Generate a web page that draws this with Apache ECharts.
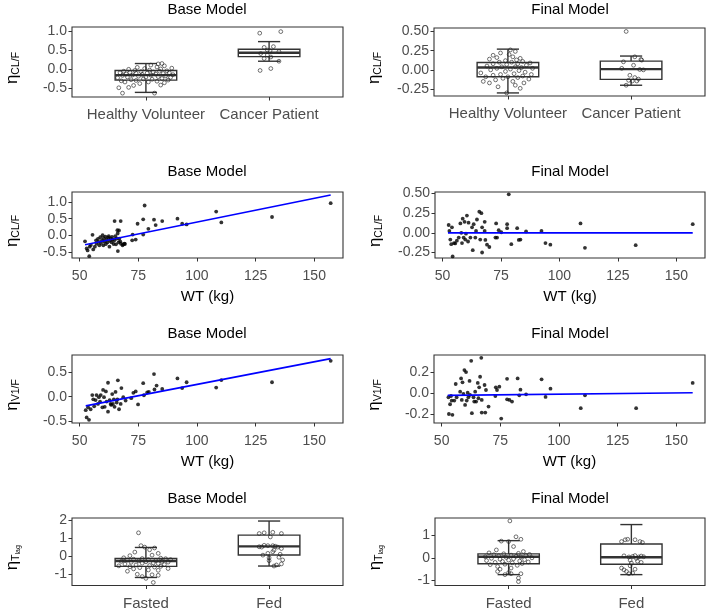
<!DOCTYPE html>
<html><head><meta charset="utf-8">
<script src="https://cdn.jsdelivr.net/npm/echarts@6/dist/echarts.min.js"></script>
<style>html,body{margin:0;padding:0;background:#fff}#c{width:709px;height:611px}</style>
</head><body><div id="c"></div><script>
// ---------- data ----------
const catsGroup = ['Healthy Volunteer', 'Cancer Patient'];
const catsFood = ['Fasted', 'Fed'];
const wtTicks = [50, 75, 100, 125, 150];

// box stats: [category, lowerWhisker, q1, median, q3, upperWhisker]
const boxBaseCL = [[1, -0.6, -0.28, -0.15, -0.03, 0.15], [2, 0.21, 0.33, 0.43, 0.52, 0.72]];
const boxFinalCL = [[1, -0.3, -0.09, 0.03, 0.096, 0.27], [2, -0.2, -0.123, 0.01, 0.114, 0.18]];
const boxBaseTlag = [[1, -1.2, -0.58, -0.28, -0.14, 0.48], [2, -0.56, 0.06, 0.54, 1.17, 1.96]];
const boxFinalTlag = [[1, -0.74, -0.26, 0.05, 0.175, 0.76], [2, -0.74, -0.28, 0.03, 0.61, 1.47]];

// jittered points: [offset from category centre, value]
const ptsBaseCL_HV = [[-0.19,-0.62],[0.07,-0.62],[-0.22,-0.48],[-0.14,-0.47],[-0.1,-0.42],[0.12,-0.41],[-0.05,-0.37],[0.15,-0.35],[-0.17,-0.33],[0.02,-0.33],[0.09,-0.31],[-0.2,-0.3],[-0.08,-0.29],[0.18,-0.28],[-0.12,-0.27],[0.05,-0.26],[-0.02,-0.25],[0.13,-0.24],[-0.23,-0.22],[0.2,-0.21],[-0.15,-0.2],[0.0,-0.2],[0.1,-0.19],[-0.06,-0.18],[0.16,-0.17],[-0.19,-0.16],[0.04,-0.15],[-0.11,-0.15],[0.22,-0.14],[-0.03,-0.13],[0.08,-0.12],[-0.16,-0.12],[0.14,-0.11],[-0.08,-0.1],[0.01,-0.1],[-0.21,-0.09],[0.19,-0.09],[-0.13,-0.08],[0.06,-0.07],[-0.04,-0.06],[0.11,-0.05],[-0.18,-0.05],[0.17,-0.04],[-0.09,-0.03],[0.03,-0.02],[-0.14,0.0],[0.12,0.01],[-0.01,0.02],[0.21,0.03],[-0.07,0.05],[0.09,0.06],[0.15,0.09],[0.04,0.11],[0.1,0.14],[0.13,0.15]];
const ptsBaseCL_CP = [[-0.076,0.94],[0.095,0.98],[-0.04,0.57],[0.035,0.59],[-0.014,0.5],[0.008,0.48],[0.08,0.46],[-0.068,0.41],[-0.014,0.37],[0.014,0.32],[0.08,0.21],[-0.073,-0.03],[0.014,0.02],[-0.04,0.28]];
const ptsFinalCL_HV = [[-0.01,-0.3],[-0.08,-0.22],[0.1,-0.24],[0.06,-0.2],[-0.15,-0.17],[0.13,-0.17],[-0.2,-0.15],[0.04,-0.15],[-0.1,-0.13],[0.17,-0.12],[-0.04,-0.11],[0.08,-0.1],[-0.18,-0.09],[0.0,-0.09],[0.12,-0.08],[-0.12,-0.07],[0.19,-0.06],[-0.06,-0.06],[0.05,-0.05],[-0.22,-0.04],[0.14,-0.03],[-0.02,-0.02],[0.09,-0.01],[-0.14,0.0],[0.02,0.01],[0.2,0.02],[-0.09,0.02],[0.11,0.03],[-0.05,0.04],[0.06,0.04],[-0.17,0.05],[0.15,0.06],[-0.01,0.07],[0.08,0.08],[-0.12,0.08],[0.18,0.09],[0.03,0.1],[-0.07,0.1],[0.12,0.11],[-0.02,0.12],[0.07,0.13],[-0.15,0.14],[0.1,0.15],[-0.09,0.16],[0.04,0.17],[-0.12,0.19],[0.01,0.2],[-0.06,0.22],[0.06,0.24],[0.02,0.26]];
const ptsFinalCL_CP = [[-0.04,0.5],[0.03,0.17],[0.08,0.136],[0.086,0.127],[-0.062,0.105],[0.02,0.06],[-0.076,0.02],[0.1,0.0],[0.07,0.005],[-0.01,-0.07],[0.03,-0.1],[-0.02,-0.136],[0.01,-0.145],[0.046,-0.145],[-0.04,-0.2],[0.06,-0.12]];
const ptsBaseTlag_Fa = [[-0.06,1.3],[-0.04,0.58],[0.07,0.45],[-0.01,0.5],[0.03,0.35],[-0.09,0.22],[0.1,0.15],[-0.13,0.02],[0.05,0.05],[-0.18,-0.1],[0.12,-0.12],[-0.03,-0.14],[0.16,-0.15],[-0.1,-0.18],[0.02,-0.2],[0.2,-0.2],[-0.15,-0.22],[0.08,-0.25],[-0.06,-0.27],[0.13,-0.3],[-0.2,-0.3],[0.0,-0.32],[0.18,-0.34],[-0.12,-0.35],[0.06,-0.38],[-0.03,-0.4],[0.1,-0.42],[-0.17,-0.45],[0.15,-0.48],[-0.08,-0.5],[0.03,-0.53],[-0.22,-0.55],[0.12,-0.58],[-0.13,-0.6],[0.07,-0.62],[-0.05,-0.65],[0.18,-0.7],[-0.1,-0.72],[0.02,-0.78],[0.1,-0.8],[-0.15,-0.85],[-0.07,-1.02],[0.05,-1.05],[0.1,-1.08],[-0.03,-1.15],[0.0,-1.25],[0.06,-1.48]];
const ptsBaseTlag_Fe = [[-0.08,1.26],[-0.04,1.3],[0.03,1.33],[0.1,1.26],[0.01,1.07],[-0.04,0.6],[-0.01,0.58],[0.03,0.58],[0.05,0.55],[0.07,0.5],[0.1,0.42],[-0.08,0.52],[-0.06,0.5],[0.04,0.33],[-0.01,0.15],[0.03,0.24],[0.08,-0.07],[0.11,-0.22],[0.0,-0.26],[0.1,-0.44],[0.04,-0.56],[0.06,-0.5],[0.0,-0.1],[-0.05,0.05],[0.09,0.1]];
const ptsFinalTlag_Fa = [[0.01,1.63],[0.06,0.93],[0.1,0.82],[-0.06,0.74],[0.0,0.72],[0.04,0.5],[-0.1,0.35],[0.12,0.28],[-0.16,0.22],[0.08,0.2],[-0.04,0.18],[0.17,0.15],[-0.12,0.14],[0.02,0.12],[0.14,0.1],[-0.08,0.09],[0.06,0.07],[-0.19,0.05],[0.1,0.04],[-0.02,0.02],[0.19,0.0],[-0.14,-0.02],[0.04,-0.04],[-0.07,-0.06],[0.13,-0.08],[0.0,-0.1],[-0.18,-0.12],[0.09,-0.14],[-0.05,-0.16],[0.16,-0.18],[-0.11,-0.2],[0.03,-0.22],[0.11,-0.25],[-0.03,-0.28],[-0.15,-0.3],[0.07,-0.33],[-0.09,-0.38],[0.02,-0.45],[-0.07,-0.5],[-0.09,-0.6],[0.0,-0.65],[0.02,-0.7],[0.1,-0.7],[-0.03,-0.74],[0.08,-0.89],[0.08,-1.05]];
const ptsFinalTlag_Fe = [[-0.08,0.72],[-0.05,0.8],[-0.03,0.82],[0.03,0.8],[0.07,0.72],[0.09,0.68],[-0.06,0.09],[-0.02,0.04],[0.01,0.06],[0.03,0.1],[0.06,0.04],[0.08,0.08],[0.1,0.05],[0.04,-0.02],[-0.01,-0.1],[0.05,-0.15],[0.08,-0.2],[0.0,-0.23],[-0.01,-0.35],[-0.08,-0.45],[-0.06,-0.53],[-0.04,-0.6],[0.03,-0.5],[0.01,-0.67],[-0.02,-0.7]];

// scatter: [WT, eta]
const wtBaseCL = [[157,0.96],[132,0.55],[110.4,0.39],[108.2,0.71],[95.6,0.33],[93.7,0.35],[91.7,0.5],[85.2,0.43],[82.4,0.31],[81.7,0.47],[79.3,0.2],[77.7,0.89],[77.1,0.48],[77.1,0.03],[74.7,0.35],[73.9,-0.12],[72.6,0.03],[72.4,-0.14],[69.3,-0.25],[68.5,-0.26],[67.5,0.43],[66.3,-0.46],[66.1,0.16],[66.8,0.15],[64.9,0.43],
 [52.3,-0.17],[53.0,-0.38],[53.4,-0.44],[54.1,-0.61],[54.3,-0.33],[54.8,-0.28],[55.5,0.02],[55.8,-0.41],[56.5,-0.33],[57.0,-0.14],[57.2,-0.24],[57.8,-0.1],[58.1,-0.19],[58.4,-0.29],[58.8,-0.05],[59.1,-0.22],[59.5,-0.14],[59.8,0.01],[60.1,-0.29],[60.3,-0.08],[60.5,-0.18],[61.0,-0.03],[61.2,-0.25],[61.5,-0.12],[61.9,-0.2],[62.2,-0.06],[62.4,-0.02],[62.7,-0.33],[63.0,-0.15],[63.3,-0.09],[63.6,-0.2],[63.8,-0.04],[64.1,-0.12],[64.5,-0.25],[64.8,-0.14],[65.2,-0.02],[65.5,-0.26],[65.8,-0.09],[66.2,0.06],[66.6,-0.2],[66.9,-0.09],[67.3,-0.17],[67.6,-0.24],[68.3,-0.29],[69.1,-0.24]];
const fitBaseCL = [[52.3,-0.27],[157,1.2]];
const wtFinalCL = [[157,0.11],[132.6,-0.157],[110.9,-0.19],[109,0.12],[96.1,-0.15],[94,-0.13],[92.3,0.025],[85.7,0.017],[83.3,-0.085],[82.6,-0.09],[81.9,0.06],[79.4,-0.144],[78.3,0.49],[77.6,0.11],[77.6,0.06],[75.1,0.008],[74,0.034],[73.3,-0.06],[72.9,0.12],[72.6,-0.06],[70,-0.18],[69,-0.15],[68.3,-0.09],[68,0.025],[68,0.14],[66.9,0.07],[66.6,0.25],[65.7,0.27],[66.1,-0.085],[66.9,-0.25],[64.7,0.17],[64.3,0.025],[64,-0.06],[63.3,0.11],[62.9,-0.22],[62.6,0.07],[61.9,-0.06],[61.1,0.13],[60.9,-0.11],[60.4,0.22],[60,-0.01],[59.7,-0.085],[59.4,0.14],[59,-0.06],[58.6,0.18],[58.3,-0.13],[58,0],[57.6,0.12],[56.9,-0.06],[56.1,-0.1],[55.4,-0.135],[54.9,-0.13],[54.3,-0.3],[54,0.07],[53.7,-0.144],[53.3,-0.085],[52.6,0.1],[52.9,0.025]];
const fitFinalCL = [[52.3,0.0],[157,0.0]];
const wtBaseV1 = [[157,0.745],[132,0.3],[110.4,0.345],[108.2,0.19],[95.6,0.3],[93.7,0.18],[91.7,0.38],[85.2,0.16],[82.8,0.23],[81.9,0.15],[81.7,0.47],[79.5,0.1],[78.8,0.09],[77.1,0.28],[77.4,0.03],[74.9,-0.16],[73.9,0.11],[72.9,0.08],[72,-0.03],[69.6,-0.08],[68.6,-0.01],[67.8,0.18],[67.5,-0.15],[66.8,-0.26],[66.3,0.34],[66.1,-0.055],[65.3,0.1],[64.9,-0.21],[64.6,-0.055],[64.2,-0.15],[63.9,0.055],[63.2,-0.15],[62.8,-0.07],[62.1,-0.31],[62.1,0.29],[61.5,-0.1],[60.7,-0.21],[60.4,-0.01],[60,0.14],[59.7,-0.22],[59,0.035],[58.7,-0.1],[58.2,-0.01],[57.8,-0.15],[57.2,0.035],[56.8,-0.07],[55.8,-0.055],[55.4,0.035],[54.7,-0.26],[54,-0.48],[53.6,-0.22],[53,-0.43],[52.6,-0.28],[56.2,-0.2],[61.2,0.11],[63.5,-0.17],[65.8,-0.12]];
const fitBaseV1 = [[52.6,-0.19],[157,0.79]];
const wtFinalV1 = [[157,0.1],[132.9,-0.144],[111.1,-0.02],[109.3,-0.144],[96.4,0.045],[94.3,-0.035],[92.6,0.135],[86,-0.01],[83.6,0.035],[83.1,-0.02],[82.4,0.144],[80,-0.08],[78.9,-0.064],[77.9,-0.058],[77.9,0.14],[75.4,-0.244],[74.6,0.064],[73.6,0.032],[73.1,0.058],[72.9,-0.026],[70,-0.128],[68.9,0.032],[68.6,-0.186],[68.3,0.08],[67.1,-0.064],[67.1,-0.186],[66.9,0.343],[66.4,0.16],[66,0.058],[65.7,-0.048],[65.4,0.1],[64.7,-0.08],[64.3,0.016],[63.9,-0.08],[63.6,-0.038],[62.9,-0.192],[62.6,0.314],[62.1,-0.016],[61.9,0.12],[61.4,-0.038],[61.1,0.006],[60.7,-0.07],[60.4,0.205],[60,-0.112],[59.7,0.224],[59.3,-0.006],[58.9,0.106],[58.6,-0.064],[58.3,0.144],[57.9,0.016],[56.4,-0.038],[56,0.09],[55.4,-0.07],[54.6,-0.208],[54.3,-0.07],[54,-0.026],[53.6,-0.106],[53.1,-0.2],[52.9,-0.038]];
const fitFinalV1 = [[52.6,-0.02],[157,0.005]];

const ticksBaseCL = [-0.5, 0, 0.5, 1];
const ticksFinalCL = [-0.25, 0, 0.25, 0.5];
const ticksBaseV1 = [-0.5, 0, 0.5];
const ticksFinalV1 = [-0.2, 0, 0.2];
const ticksBaseTlag = [-1, 0, 1, 2];
const ticksFinalTlag = [-1, 0, 1];

// ---------- chart ----------
const FONT = '"Liberation Sans", Arial, sans-serif';
const INK = '#333333';
const grids = [
  {left:72, top:27, width:271, height:70},
  {left:434, top:28, width:271, height:68},
  {left:72, top:192, width:271, height:66},
  {left:435, top:192, width:270, height:66},
  {left:72, top:355, width:271, height:68},
  {left:434, top:355, width:271, height:68},
  {left:72, top:518, width:271, height:68},
  {left:435, top:518, width:270, height:68}
].map(g => Object.assign(g, {show:true, borderColor:INK, borderWidth:1.1, backgroundColor:'#fff'}));

const richName = {
  e:{fontSize:17, fontFamily:FONT, color:'#000', lineHeight:20},
  s:{fontSize:10.5, fontFamily:FONT, color:'#000', verticalAlign:'bottom', lineHeight:12},
  ss:{fontSize:7, fontFamily:FONT, color:'#000', verticalAlign:'bottom', lineHeight:8}
};
const NAME_CL = '{e|η}{s|CL/F}';
const NAME_V1 = '{e|η}{s|V1/F}';
const NAME_TL = '{e|η}{s|T}{ss|lag}';

function yAx(gi, min, max, ticks, dec, name) {
  return {type:'value', gridIndex:gi, min:min, max:max, name:name, nameLocation:'middle', nameGap:50, nameRotate:90,
    nameTextStyle:{rich:richName, padding:[0, 12, 0, 0]},
    axisLine:{show:false, onZero:false},
    axisTick:{show:true, inside:false, length:3.5, customValues:ticks, lineStyle:{color:INK, width:1}},
    axisLabel:{customValues:ticks, formatter:v => Number(v).toFixed(dec), color:'#4d4d4d', fontSize:14, margin:5, fontFamily:FONT},
    splitLine:{show:false}};
}
function xCat(gi, cats) {
  return {type:'value', gridIndex:gi, min:0.4, max:2.6,
    axisLine:{show:false, onZero:false},
    axisTick:{show:true, inside:false, length:3.5, customValues:[1,2], lineStyle:{color:INK, width:1}},
    axisLabel:{customValues:[1,2], formatter:v => cats[Math.round(v)-1], color:'#4d4d4d', fontSize:15, margin:10.5, fontFamily:FONT},
    splitLine:{show:false}};
}
function xWT(gi) {
  return {type:'value', gridIndex:gi, min:46.75, max:162.25, name:'WT (kg)', nameLocation:'middle', nameGap:31,
    nameTextStyle:{color:'#000', fontSize:15, fontFamily:FONT},
    axisLine:{show:false, onZero:false},
    axisTick:{show:true, inside:false, length:3.5, customValues:wtTicks, lineStyle:{color:INK, width:1}},
    axisLabel:{customValues:wtTicks, color:'#4d4d4d', fontSize:14, margin:11, fontFamily:FONT},
    splitLine:{show:false}};
}

function boxRender(params, api) {
  const x = api.value(0), lo = api.value(1), q1 = api.value(2), med = api.value(3), q3 = api.value(4), hi = api.value(5);
  const hb = 0.25, hc = 0.09;
  const P = (a, b) => api.coord([a, b]);
  const ls = {stroke:INK, lineWidth:1.4};
  const a = P(x - hb, q3), b = P(x + hb, q1);
  const m1 = P(x - hb, med), m2 = P(x + hb, med);
  const line = (p1, p2, w) => ({type:'line', shape:{x1:p1[0], y1:p1[1], x2:p2[0], y2:p2[1]}, style:Object.assign({}, ls, w ? {lineWidth:w} : {})});
  return {type:'group', children:[
    line(P(x, lo), P(x, hi)),
    line(P(x - hc, lo), P(x + hc, lo)),
    line(P(x - hc, hi), P(x + hc, hi)),
    {type:'rect', shape:{x:a[0], y:a[1], width:b[0]-a[0], height:b[1]-a[1]}, style:{fill:'#fff', stroke:INK, lineWidth:1.4}},
    line(m1, m2, 2.4)
  ]};
}
function boxSeries(gi, data) {
  return {type:'custom', xAxisIndex:gi, yAxisIndex:gi, renderItem:boxRender, data:data, z:2, silent:true, encode:{x:0, y:[1,2,3,4,5]}};
}
function jitterSeries(gi, a, b) {
  const d = a.map(p => [1 + p[0], p[1]]).concat(b.map(p => [2 + p[0], p[1]]));
  return {type:'scatter', xAxisIndex:gi, yAxisIndex:gi, data:d, symbol:'circle', symbolSize:3.8, z:3, silent:true,
    itemStyle:{color:'rgba(255,255,255,0)', borderColor:'#222', borderWidth:0.8}};
}
function dotSeries(gi, data) {
  return {type:'scatter', xAxisIndex:gi, yAxisIndex:gi, data:data, symbol:'circle', symbolSize:3.8, z:3, silent:true,
    itemStyle:{color:'#000'}};
}
function fitSeries(gi, data) {
  return {type:'line', xAxisIndex:gi, yAxisIndex:gi, data:data, showSymbol:false, z:4, silent:true,
    lineStyle:{color:'#0000ff', width:1.6}};
}

const titleRows = [2, 164, 326, 491];
const titles = [];
titleRows.forEach(t => {
  titles.push({text:'Base Model', left:207, top:t, textAlign:'center', padding:0, textStyle:{fontSize:15, fontWeight:'normal', color:'#000', fontFamily:FONT}});
  titles.push({text:'Final Model', left:570, top:t, textAlign:'center', padding:0, textStyle:{fontSize:15, fontWeight:'normal', color:'#000', fontFamily:FONT}});
});

const option = {
  animation:false,
  backgroundColor:'#fff',
  title:titles,
  grid:grids,
  xAxis:[xCat(0, catsGroup), xCat(1, catsGroup), xWT(2), xWT(3), xWT(4), xWT(5), xCat(6, catsFood), xCat(7, catsFood)],
  yAxis:[
    yAx(0, -0.72, 1.1, ticksBaseCL, 1, NAME_CL),
    yAx(1, -0.34, 0.545, ticksFinalCL, 2, NAME_CL),
    yAx(2, -0.665, 1.29, ticksBaseCL, 1, NAME_CL),
    yAx(3, -0.32, 0.52, ticksFinalCL, 2, NAME_CL),
    yAx(4, -0.545, 0.865, ticksBaseV1, 1, NAME_V1),
    yAx(5, -0.287, 0.37, ticksFinalV1, 1, NAME_V1),
    yAx(6, -1.65, 2.13, ticksBaseTlag, 0, NAME_TL),
    yAx(7, -1.22, 1.76, ticksFinalTlag, 0, NAME_TL)
  ],
  series:[
    boxSeries(0, boxBaseCL), jitterSeries(0, ptsBaseCL_HV, ptsBaseCL_CP),
    boxSeries(1, boxFinalCL), jitterSeries(1, ptsFinalCL_HV, ptsFinalCL_CP),
    dotSeries(2, wtBaseCL), fitSeries(2, fitBaseCL),
    dotSeries(3, wtFinalCL), fitSeries(3, fitFinalCL),
    dotSeries(4, wtBaseV1), fitSeries(4, fitBaseV1),
    dotSeries(5, wtFinalV1), fitSeries(5, fitFinalV1),
    boxSeries(6, boxBaseTlag), jitterSeries(6, ptsBaseTlag_Fa, ptsBaseTlag_Fe),
    boxSeries(7, boxFinalTlag), jitterSeries(7, ptsFinalTlag_Fa, ptsFinalTlag_Fe)
  ]
};
const chart = echarts.init(document.getElementById('c'), null, {renderer:'canvas'});
chart.setOption(option);
</script></body></html>
